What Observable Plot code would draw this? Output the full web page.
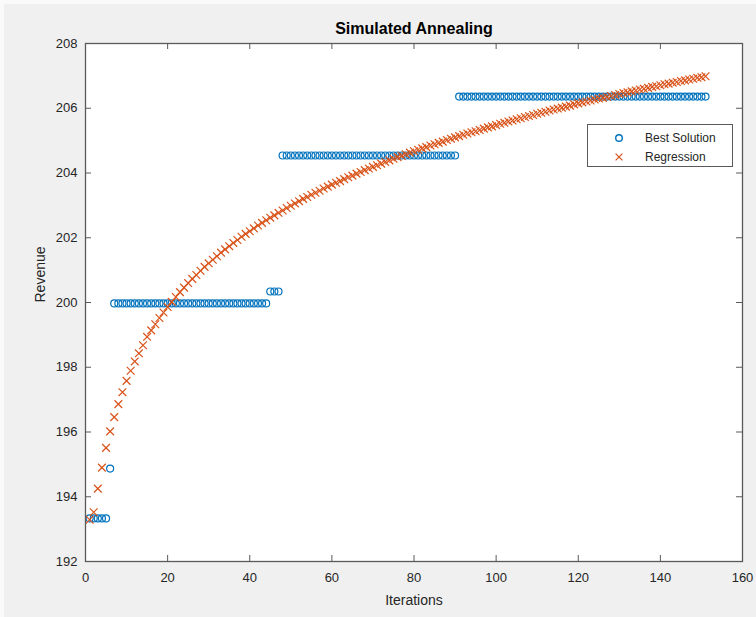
<!DOCTYPE html>
<html>
<head>
<meta charset="utf-8">
<script src="https://cdn.jsdelivr.net/npm/d3@7"></script>
<script src="https://cdn.jsdelivr.net/npm/@observablehq/plot@0.6"></script>
<style>
html,body{margin:0;padding:0;background:#fafafa;}
#wrap{position:relative;width:756px;height:617px;overflow:hidden;}
#chart{position:absolute;left:4px;top:4px;}
#legend{position:absolute;left:587px;top:124px;width:144px;height:41px;border:1px solid #5a5a5a;background:#fff;
  font:12px "Liberation Sans",Arial,sans-serif;color:#262626;}
#legend .row{position:absolute;left:0;height:16px;display:flex;align-items:center;}
#legend svg{position:absolute;left:24px;}
#legend span{position:absolute;left:57px;white-space:nowrap;}
</style>
</head>
<body>
<div id="wrap">
  <div id="chart"></div>
  <div id="legend"></div>
</div>
<script>
// ---- data ----
const xTicks = [0, 20, 40, 60, 80, 100, 120, 140, 160];
const yTicks = [192, 194, 196, 198, 200, 202, 204, 206, 208];

// Best Solution: runs of constant value (first iteration, last iteration, revenue)
const bestStart = [1, 6, 7, 45, 48, 91];
const bestEnd   = [5, 6, 44, 47, 90, 151];
const bestValue = [193.33, 194.87, 199.97, 200.34, 204.54, 206.36];

// Regression values for iterations 1..151
const regression = [
  193.29,193.52,194.25,194.90,195.51,196.02,196.46,196.86,197.23,197.58,
  197.89,198.18,198.43,198.68,198.94,199.14,199.33,199.52,199.69,199.86,
  200.02,200.17,200.32,200.46,200.60,200.73,200.85,200.98,201.10,201.21,
  201.32,201.43,201.54,201.64,201.74,201.84,201.93,202.03,202.12,202.20,
  202.29,202.38,202.46,202.54,202.62,202.69,202.77,202.84,202.92,202.99,
  203.06,203.13,203.20,203.26,203.33,203.39,203.45,203.52,203.58,203.64,
  203.70,203.75,203.81,203.87,203.92,203.98,204.03,204.09,204.14,204.19,
  204.24,204.29,204.34,204.39,204.44,204.49,204.53,204.58,204.63,204.67,
  204.72,204.76,204.80,204.85,204.89,204.93,204.97,205.02,205.06,205.10,
  205.14,205.18,205.22,205.26,205.29,205.33,205.37,205.41,205.44,205.48,
  205.52,205.55,205.59,205.62,205.66,205.69,205.73,205.76,205.79,205.83,
  205.86,205.89,205.93,205.96,205.99,206.02,206.05,206.08,206.12,206.15,
  206.18,206.21,206.24,206.27,206.30,206.32,206.35,206.38,206.41,206.44,
  206.47,206.49,206.52,206.55,206.58,206.60,206.63,206.66,206.68,206.71,
  206.74,206.76,206.79,206.81,206.84,206.86,206.89,206.91,206.94,206.96,
  206.99
];

const titleText = "Simulated Annealing";
const xLabel = "Iterations";
const yLabel = "Revenue";
const seriesNames = ["Best Solution", "Regression"];
const colors = ["#0072BD", "#D95319"];

// ---- build tables ----
const best = [];
bestStart.forEach((s, k) => {
  for (let i = s; i <= bestEnd[k]; i++) best.push({iteration: i, value: bestValue[k]});
});
const reg = regression.map((v, i) => ({iteration: i + 1, value: v}));

// ---- layout ----
const W = 752, H = 613, mL = 81, mR = 14, mT = 39, mB = 56;
const fh = H - mT - mB, fw = W - mL - mR, tick = 6;
const axisColor = "#5a5a5a";

const chart = Plot.plot({
  width: W, height: H,
  marginLeft: mL, marginRight: mR, marginTop: mT, marginBottom: mB,
  style: {background: "#f0f0f0", fontFamily: "'Liberation Sans', Arial, sans-serif", fontSize: "13px", color: "#262626"},
  x: {domain: [0, 160]},
  y: {domain: [192, 208]},
  marks: [
    Plot.frame({fill: "white", stroke: null}),
    Plot.axisX(xTicks, {tickSize: 0, tickPadding: 11, label: null, fontSize: 13}),
    Plot.axisY(yTicks, {tickSize: 0, tickPadding: 8, label: null, fontSize: 13}),
    Plot.ruleX(xTicks, {x: d => d, insetTop: fh - tick, stroke: axisColor}),
    Plot.ruleX(xTicks, {x: d => d, insetBottom: fh - tick, stroke: axisColor}),
    Plot.ruleY(yTicks, {y: d => d, insetRight: fw - tick, stroke: axisColor}),
    Plot.ruleY(yTicks, {y: d => d, insetLeft: fw - tick, stroke: axisColor}),
    Plot.dot(best, {x: "iteration", y: "value", r: 3.5, symbol: "circle", stroke: colors[0], strokeWidth: 1.2, fill: "none"}),
    Plot.dot(reg, {x: "iteration", y: "value", r: 3.6, symbol: "times", stroke: colors[1], strokeWidth: 1.2}),
    Plot.frame({stroke: axisColor, strokeWidth: 1.3}),
    Plot.text([titleText], {text: d => d, frameAnchor: "top", lineAnchor: "middle", dy: -15, fontWeight: "bold", fontSize: 16, fill: "#000"}),
    Plot.text([xLabel], {text: d => d, frameAnchor: "bottom", lineAnchor: "middle", dy: 39, fontSize: 14, fill: "#262626"}),
    Plot.text([yLabel], {text: d => d, frameAnchor: "left", dx: -45, rotate: -90, fontSize: 14, fill: "#262626"})
  ]
});
document.getElementById("chart").appendChild(chart);

// ---- legend ----
const legend = document.getElementById("legend");
seriesNames.forEach((name, k) => {
  const row = document.createElement("div");
  row.className = "row";
  row.style.top = (k === 0 ? 5 : 24) + "px";
  row.style.width = "144px";
  const sym = k === 0
    ? `<svg width="14" height="16"><circle cx="7" cy="8" r="3.3" fill="none" stroke="${colors[0]}" stroke-width="1.4"/></svg>`
    : `<svg width="14" height="16"><path d="M3.6,4.6L10.4,11.4M3.6,11.4L10.4,4.6" stroke="${colors[1]}" stroke-width="1.2"/></svg>`;
  row.innerHTML = sym + `<span>${name}</span>`;
  legend.appendChild(row);
});
</script>
</body>
</html>
